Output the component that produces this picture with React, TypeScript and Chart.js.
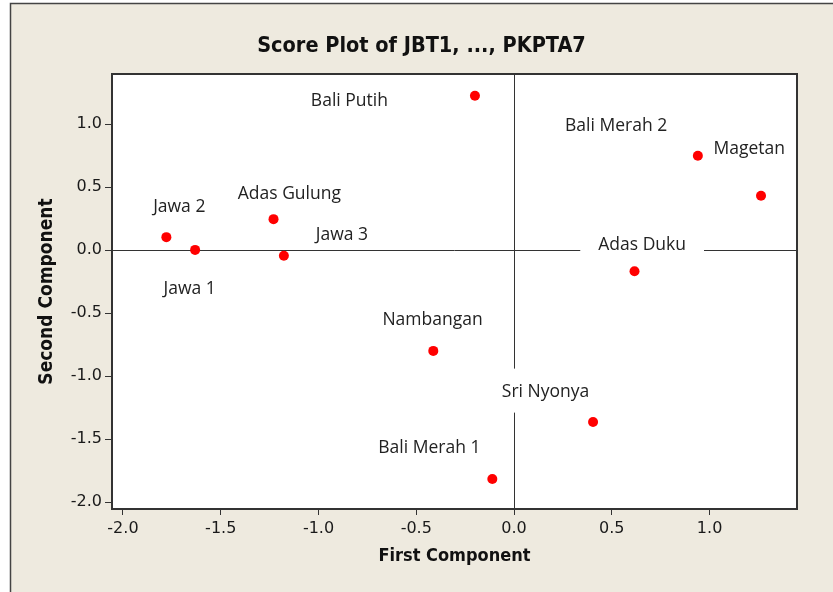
import React, { useEffect, useRef } from "react";
import { Chart, registerables } from "chart.js";

Chart.register(...registerables);

// ---- data ----
const SAMPLE_NAMES = [
  "Bali Putih",
  "Bali Merah 2",
  "Magetan",
  "Adas Duku",
  "Jawa 2",
  "Jawa 1",
  "Adas Gulung",
  "Jawa 3",
  "Nambangan",
  "Sri Nyonya",
  "Bali Merah 1",
];
const FIRST_COMPONENT = [-0.2, 0.94, 1.263, 0.616, -1.778, -1.631, -1.23, -1.177, -0.413, 0.404, -0.111];
const SECOND_COMPONENT = [1.225, 0.748, 0.431, -0.167, 0.103, 0.002, 0.246, -0.045, -0.799, -1.363, -1.815];
const LABEL_X = [-0.842, 0.522, 1.203, 0.655, -1.712, -1.659, -1.149, -0.88, -0.417, 0.161, -0.433];
const LABEL_Y = [1.179, 0.987, 0.804, 0.044, 0.344, -0.307, 0.447, 0.121, -0.553, -1.122, -1.569];
const OPAQUE_LABELS = ["Adas Duku", "Sri Nyonya"];

const X_TICKS = [-2, -1.5, -1, -0.5, 0, 0.5, 1];
const Y_TICKS = [-2, -1.5, -1, -0.5, 0, 0.5, 1];
const X_MIN = -2.056;
const X_MAX = 1.447;
const Y_MIN = -2.053;
const Y_MAX = 1.397;

const TITLE = "Score Plot of JBT1, ..., PKPTA7";
const X_TITLE = "First Component";
const Y_TITLE = "Second Component";

// ---- styles ----
const W = 833;
const H = 592;
const BEIGE = "#eeeadf";
const DARK = "#333333";
const TICK_FONT = { family: "'DejaVu Sans', sans-serif", size: 16 };
const LABEL_FONT = "17.5px 'Open Sans', sans-serif";
const TITLE_FONT = "bold 21.5px 'DejaVu Sans Condensed', 'DejaVu Sans', sans-serif";
const X_TITLE_FONT = "bold 18px 'DejaVu Sans Condensed', 'DejaVu Sans', sans-serif";
const Y_TITLE_FONT = "bold 19px 'DejaVu Sans Condensed', 'DejaVu Sans', sans-serif";

const decorPlugin = {
  id: "decor",
  beforeDraw(chart: any) {
    const ctx = chart.ctx;
    const a = chart.chartArea;
    ctx.save();
    ctx.fillStyle = "#ffffff";
    ctx.fillRect(0, 0, W, H);
    ctx.fillStyle = BEIGE;
    ctx.fillRect(10, 3, W - 10, H - 3);
    ctx.strokeStyle = "#444";
    ctx.lineWidth = 1.5;
    ctx.beginPath();
    ctx.moveTo(10.5, H);
    ctx.lineTo(10.5, 3.5);
    ctx.lineTo(W, 3.5);
    ctx.stroke();
    ctx.fillStyle = "#ffffff";
    ctx.fillRect(a.left, a.top, a.right - a.left, a.bottom - a.top);
    ctx.restore();
  },
  beforeDatasetsDraw(chart: any) {
    const ctx = chart.ctx;
    const a = chart.chartArea;
    const xs = chart.scales.x;
    const ys = chart.scales.y;
    ctx.save();
    // reference lines
    ctx.strokeStyle = DARK;
    ctx.lineWidth = 1;
    const x0 = Math.round(xs.getPixelForValue(0)) + 0.5;
    const y0 = Math.round(ys.getPixelForValue(0)) + 0.5;
    ctx.beginPath();
    ctx.moveTo(a.left, y0);
    ctx.lineTo(a.right, y0);
    ctx.moveTo(x0, a.top);
    ctx.lineTo(x0, a.bottom);
    ctx.stroke();
    // labels
    ctx.font = LABEL_FONT;
    ctx.textAlign = "center";
    ctx.textBaseline = "middle";
    SAMPLE_NAMES.forEach((name, i) => {
      const px = xs.getPixelForValue(LABEL_X[i]);
      const py = ys.getPixelForValue(LABEL_Y[i]);
      if (OPAQUE_LABELS.includes(name)) {
        const w = ctx.measureText(name).width;
        ctx.fillStyle = "#ffffff";
        ctx.fillRect(px - w / 2 - 18, py - 23, w + 36, 44);
      }
      ctx.fillStyle = "#222222";
      ctx.fillText(name, px, py);
    });
    ctx.restore();
  },
  afterDraw(chart: any) {
    const ctx = chart.ctx;
    const a = chart.chartArea;
    ctx.save();
    ctx.strokeStyle = DARK;
    ctx.lineWidth = 2;
    ctx.strokeRect(a.left, a.top, a.right - a.left, a.bottom - a.top);
    ctx.fillStyle = "#111111";
    ctx.textAlign = "center";
    ctx.textBaseline = "middle";
    ctx.font = TITLE_FONT;
    ctx.fillText(TITLE, (10 + W) / 2, 46);
    ctx.font = X_TITLE_FONT;
    ctx.fillText(X_TITLE, (a.left + a.right) / 2, 556);
    ctx.font = Y_TITLE_FONT;
    ctx.translate(47, (a.top + a.bottom) / 2);
    ctx.rotate(-Math.PI / 2);
    ctx.fillText(Y_TITLE, 0, 0);
    ctx.restore();
  },
};

export default function App() {
  const ref = useRef<HTMLCanvasElement | null>(null);

  useEffect(() => {
    if (!ref.current) return;
    const points = FIRST_COMPONENT.map((x, i) => ({ x, y: SECOND_COMPONENT[i] }));
    const chart = new Chart(ref.current, {
      type: "scatter",
      data: {
        datasets: [
          {
            data: points,
            backgroundColor: "#ff0000",
            borderColor: "#ff0000",
            pointRadius: 5,
            pointHoverRadius: 5,
            borderWidth: 0,
          },
        ],
      },
      options: {
        animation: false,
        responsive: false,
        events: [],
        layout: { padding: { top: 74, right: 36, left: 0, bottom: 0 } },
        plugins: { legend: { display: false }, title: { display: false }, tooltip: { enabled: false } },
        scales: {
          x: {
            type: "linear",
            min: X_MIN,
            max: X_MAX,
            afterBuildTicks: (s: any) => {
              s.ticks = X_TICKS.map((v) => ({ value: v }));
            },
            afterFit: (s: any) => {
              s.height = H - 509;
            },
            ticks: {
              font: TICK_FONT,
              color: "#1a1a1a",
              padding: 4,
              maxRotation: 0,
              autoSkip: false,
              callback: (v: any) => Number(v).toFixed(1),
            },
            grid: { drawOnChartArea: false, drawTicks: true, tickLength: 6, color: DARK, lineWidth: 1 },
            border: { display: false },
          },
          y: {
            type: "linear",
            min: Y_MIN,
            max: Y_MAX,
            afterBuildTicks: (s: any) => {
              s.ticks = Y_TICKS.map((v) => ({ value: v }));
            },
            afterFit: (s: any) => {
              s.width = 112;
            },
            ticks: {
              font: TICK_FONT,
              color: "#1a1a1a",
              padding: 3,
              autoSkip: false,
              callback: (v: any) => Number(v).toFixed(1),
            },
            grid: { drawOnChartArea: false, drawTicks: true, tickLength: 7, color: DARK, lineWidth: 1 },
            border: { display: false },
          },
        },
      },
      plugins: [decorPlugin],
    });
    return () => chart.destroy();
  }, []);

  return (
    <div style={{ position: "absolute", left: 0, top: 0, width: W, height: H }}>
      <canvas ref={ref} width={W} height={H} style={{ width: W, height: H, display: "block" }} />
    </div>
  );
}
